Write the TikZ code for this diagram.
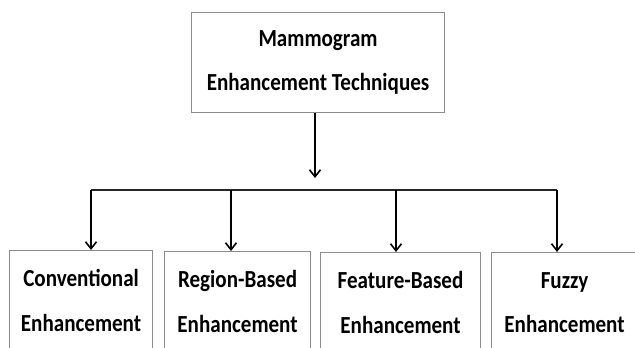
\documentclass[tikz,border=0pt]{standalone}
\usepackage{fontspec}
\setmainfont{Carlito}[FakeStretch=0.86]
\usetikzlibrary{arrows.meta}
\begin{document}
\begin{tikzpicture}[x=1bp,y=-1bp,
  box/.style={draw=black!45,line width=1.1bp,rectangle,inner sep=0pt,align=center,
    font=\fontsize{24.6}{45}\selectfont\bfseries,anchor=north west},
  arr/.style={line width=1.6bp,-{Straight Barb[length=7bp,width=11bp,line width=1.6bp]}},
  bar/.style={line width=2.8bp,black!85}]
\useasboundingbox (0,0) rectangle (635,347);
\clip (0,0) rectangle (635,347);
\fill[white] (0,0) rectangle (635,347);
\node[box,minimum width=253bp,minimum height=100bp] (top) at (191,12) {Mammogram\\Enhancement Techniques};
\node[box,minimum width=143bp,minimum height=100bp] (c1) at (9,250) {Conventional\\Enhancement};
\node[box,minimum width=146bp,minimum height=100bp] (c2) at (164,251) {Region-Based\\Enhancement};
\node[box,minimum width=160bp,minimum height=100bp] (c3) at (320,252) {Feature-Based\\Enhancement};
\node[box,minimum width=146bp,minimum height=100bp] (c4) at (491,252) {Fuzzy\\Enhancement};
\coordinate (j) at (315,178);
\coordinate (b1) at (91,190);
\coordinate (b2) at (231,190);
\coordinate (b3) at (396,190);
\coordinate (b4) at (557,190);
\draw[arr] (top.south -| j) -- (j);
\draw[bar] (b1) -- (b4);
\draw[arr] (b1) -- (b1 |- c1.north);
\draw[arr] (b2) -- (b2 |- c2.north);
\draw[arr] (b3) -- (b3 |- c3.north);
\draw[arr] (b4) -- (b4 |- c4.north);
\end{tikzpicture}
\end{document}
